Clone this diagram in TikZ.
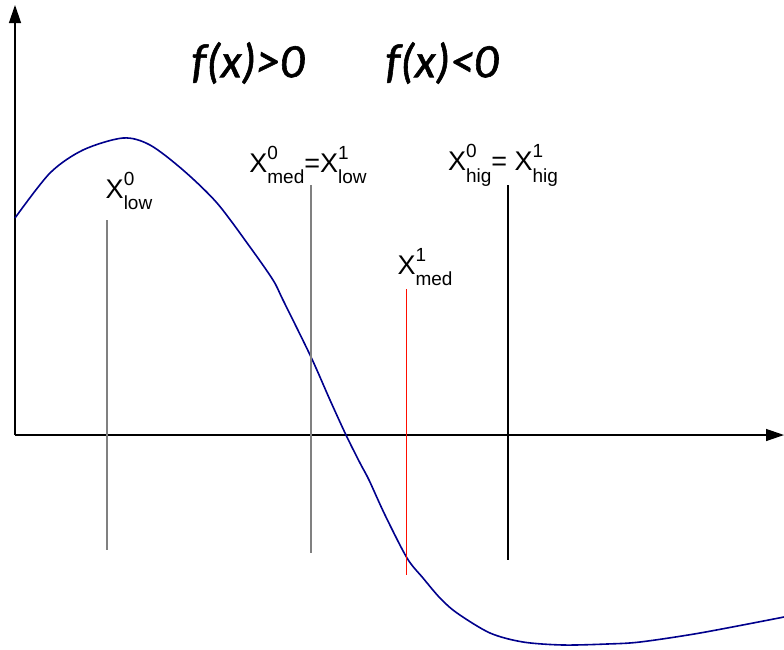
\documentclass[tikz,border=0pt]{standalone}
\usepackage{fontspec}
\setmainfont{Liberation Sans}
\newfontfamily\titlefont[ItalicFeatures={FakeBold=1.2}]{Carlito}
\usetikzlibrary{arrows.meta}

\newcommand{\xlab}[2]{X\rlap{\raisebox{0.5em}{\fontsize{19}{19}\selectfont #1}}\raisebox{-0.42em}{\fontsize{19}{19}\selectfont #2}}

\begin{document}
\begin{tikzpicture}[x=1pt,y=-1pt]
      \useasboundingbox (0,0) rectangle (784,649);
      % axes
      \coordinate (o) at (15,435);
      \coordinate (ytop) at (15,5);
      \coordinate (xend) at (784,435);
      \draw[line width=1.3pt, -{Triangle[length=18pt,width=12pt]}] (o) -- (ytop);
      \draw[line width=1.3pt, -{Triangle[length=18pt,width=12pt]}] (o) -- (xend);
      % the function
      \draw[blue!55!black, line width=1.6pt] plot[smooth, tension=0.5] coordinates {
        (15,218) (50,173) (83,150) (123,138) (150,145) (183,170) (217,203)
        (250,247) (273,280) (283,300) (311,357) (330,400) (346,435) (360,463)
        (369,480) (385,515) (407,558) (423,578) (440,598) (457,613) (490,633)
        (523,642) (563,645) (607,644) (640,642) (700,633) (784,617)};
      % bracketing lines
      \foreach \xx/\ytop/\ybot/\col in {107/220/550/gray, 311/185/553/gray, 508/185/560/black} {
        \draw[\col, line width=1.2pt] (\xx,\ytop) -- (\xx,\ybot);
      }
      \draw[red!90!orange, line width=1pt] (406,289) -- (406,575);
      % labels
      \node[font=\fontsize{27}{27}\selectfont] (low0) at (129,191) {\xlab{0}{low}};
      \node[font=\fontsize{27}{27}\selectfont] (med0) at (308,165) {\xlab{0}{med}=\xlab{1}{low}};
      \node[font=\fontsize{27}{27}\selectfont] (med1) at (425,267) {\xlab{1}{med}};
      \node[font=\fontsize{27}{27}\selectfont] (hig0) at (503,165) {\xlab{0}{hig}= \xlab{1}{hig}};
      \node[font=\titlefont\itshape\fontsize{48}{48}\selectfont] (pos) at (248,63) {f(x)>0};
      \node[font=\titlefont\itshape\fontsize{48}{48}\selectfont] (neg) at (442,63) {f(x)<0};
    \end{tikzpicture}
\end{document}
